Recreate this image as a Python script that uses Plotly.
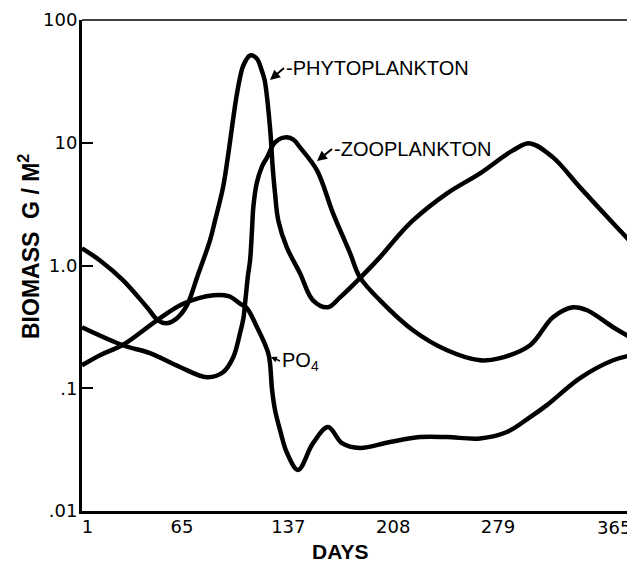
import plotly.graph_objects as go

# ---- data (days, biomass g/m^2) ----
phyto_days = [-2.7, 9.5, 25, 41.3, 48.7, 54.8, 61.6, 68.4, 75.2, 84, 87.4, 92.8, 96.4, 99.5,
              101.8, 104.3, 106.5, 111.1, 115.6, 119, 121, 124.6, 126.4, 128, 130.2, 135.9,
              144.9, 153.7, 163.9, 172, 185.5, 199.1, 210.6, 221.4, 244.5, 266.8, 289.1,
              300.7, 316.2, 334.5, 356.9, 369.7]
phyto_vals = [1.38, 1.10, 0.76, 0.457, 0.358, 0.339, 0.372, 0.475, 0.80, 1.61, 2.33, 4.33, 8.2, 15.2,
              23.4, 34.0, 42.6, 51.4, 48.6, 38.8, 32.2, 13.3, 6.34, 3.87, 2.33, 1.41,
              0.865, 0.52, 0.457, 0.55, 0.79, 1.17, 1.70, 2.33, 3.87, 5.63, 8.67,
              9.88, 7.6, 4.33, 2.21, 1.52]

zoo_days = [-2.7, 25, 43.3, 63.6, 81.9, 92.8, 99.7, 104.3, 106.6, 107.7, 109.7, 111.1, 112.4,
            113.3, 115.6, 119.2, 122.6, 128, 134.8, 140.2, 144.9, 156.4, 167.3, 178.8, 185.5,
            199.1, 221.4, 244.5, 266.8, 280.3, 300.7, 316.2, 329.8, 339.3, 356.9, 369.7]
zoo_vals = [0.314, 0.224, 0.193, 0.149, 0.123, 0.135, 0.179, 0.281, 0.372, 0.49, 0.833, 1.10, 1.94,
            2.98, 4.67, 6.42, 7.6, 10.07, 11.06, 10.65, 9.17, 5.96, 2.66, 1.26, 0.80,
            0.52, 0.297, 0.204, 0.169, 0.176, 0.224, 0.379, 0.457, 0.432, 0.314, 0.256]

po4_days = [-2.7, 9.5, 25, 48.1, 66.1, 86.4, 96.6, 104.3, 109, 115.8, 120, 123.4, 124.6, 126,
            128, 131.4, 136.1, 143.6, 153.7, 163.9, 173.3, 185.5, 205.8, 226.1, 244.5,
            266.8, 285, 300.7, 312.1, 334.5, 356.9, 369.7]
po4_vals = [0.154, 0.186, 0.226, 0.358, 0.49, 0.573, 0.562, 0.49, 0.449, 0.314, 0.246, 0.193, 0.160, 0.097,
            0.0664, 0.0456, 0.0297, 0.0216, 0.0357, 0.0483, 0.0357, 0.0326, 0.0365, 0.040, 0.040,
            0.039, 0.044, 0.0582, 0.0729, 0.121, 0.169, 0.186]

x_tick_vals = [1, 65, 137, 208, 279, 365]
x_tick_text = ["1", "65", "137", "208", "279", "365"]
x_tick_marks = [65, 137, 208, 279]
y_tick_vals = [0.01, 0.1, 1, 10, 100]
y_tick_text = [".01", ".1", "1.0", "10", "100"]
x_range = [-2.7, 369.7]

fig = go.Figure()
for name, d, v in [("PHYTOPLANKTON", phyto_days, phyto_vals),
                   ("ZOOPLANKTON", zoo_days, zoo_vals),
                   ("PO4", po4_days, po4_vals)]:
    fig.add_trace(go.Scatter(x=d, y=v, mode="lines", name=name, showlegend=False,
                             line=dict(color="black", width=4.5, shape="spline", smoothing=1.0)))

# page body has an 8px margin: figure is shrunk by 8px so the plot lands where the reference has it
W, H = 627, 555
L, T = 74, 12
PW, PH = 550, 491
OX, OY = 8 + L, 8 + T          # screen position of the plot's top-left corner


def px(x):
    return (x - OX) / PW


def py(y):
    return (OY + PH - y) / PH


tickfont = dict(family="DejaVu Sans", size=18, color="black")
fig.update_layout(
    width=W, height=H,
    margin=dict(l=L, r=W - L - PW, t=T, b=H - T - PH, autoexpand=False),
    paper_bgcolor="white", plot_bgcolor="white",
    xaxis=dict(range=x_range, tickmode="array", tickvals=x_tick_vals[:-1], ticktext=x_tick_text[:-1],
               ticks="", showline=True, linewidth=3, linecolor="black", showgrid=False, zeroline=False,
               tickfont=tickfont, automargin=False, ticklabelstandoff=-3),
    xaxis2=dict(range=x_range, overlaying="x", anchor="y", side="bottom", tickmode="array",
                tickvals=x_tick_marks, ticks="inside", ticklen=12, tickwidth=1.5, tickcolor="black",
                showticklabels=False, showline=False, showgrid=False, zeroline=False, automargin=False),
    yaxis=dict(type="log", range=[-2, 2], tickmode="array", tickvals=y_tick_vals, ticktext=y_tick_text,
               ticks="inside", ticklen=11, tickwidth=1.5, tickcolor="black",
               showline=True, linewidth=3, linecolor="black", showgrid=False, zeroline=False,
               tickfont=tickfont, ticklabelstandoff=-2, automargin=False),
    shapes=[
        dict(type="line", xref="paper", yref="paper", x0=0, x1=1, y0=1, y1=1,
             line=dict(color="black", width=1.5)),
        dict(type="line", xref="paper", yref="paper", x0=1, x1=1, y0=0, y1=1,
             line=dict(color="black", width=1.5)),
    ],
)

lab = dict(family="Liberation Sans", size=20, color="black")
ttl = dict(family="Liberation Sans", size=23, color="black")
arrow = dict(showarrow=True, arrowhead=2, arrowsize=1, arrowwidth=2, arrowcolor="black",
             axref="pixel", ayref="pixel", xanchor="left", yanchor="middle")
ann = [
    dict(text="-PHYTOPLANKTON", xref="paper", yref="paper", x=px(270), y=py(80),
         ax=14, ay=-12, font=lab, **arrow),
    dict(text="-ZOOPLANKTON", xref="paper", yref="paper", x=px(317), y=py(161),
         ax=15, ay=-12, font=lab, **arrow),
    dict(text="PO<sub>4</sub>", xref="paper", yref="paper", x=px(271), y=py(357),
         ax=9, ay=4, font=lab, **{**arrow, "arrowsize": 0.8, "arrowwidth": 1.5}),
    # last day label sits flush with the right border, as in the reference
    dict(text=x_tick_text[-1], xref="x", yref="paper", x=x_tick_vals[-1], y=py(527),
         xanchor="right", yanchor="middle", xshift=8, showarrow=False, font=tickfont),
    dict(text="<b>BIOMASS  G / M<sup>2</sup></b>", xref="paper", yref="paper",
         x=px(29), y=py(247), textangle=-90, xanchor="center", yanchor="middle",
         showarrow=False, font=ttl),
    dict(text="<b>DAYS</b>", xref="paper", yref="paper", x=px(340), y=py(551),
         xanchor="center", yanchor="middle", showarrow=False,
         font=dict(family="Liberation Sans", size=21, color="black")),
]
fig.update_layout(annotations=ann)
fig.write_html("out.html")
